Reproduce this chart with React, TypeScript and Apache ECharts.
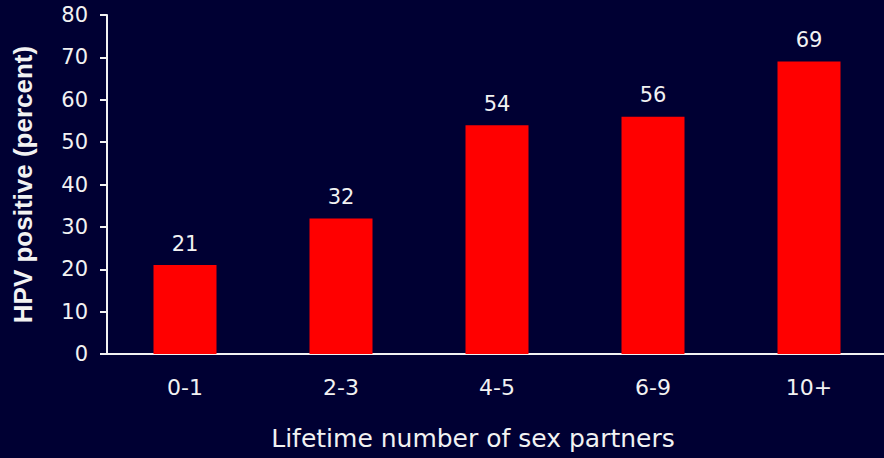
import React, { useEffect, useRef } from "react";
import * as echarts from "echarts";

const categories = ["0-1", "2-3", "4-5", "6-9", "10+"];
const values = [21, 32, 54, 56, 69];
const yTicks = { min: 0, max: 80, interval: 10 };

export default function App() {
  const ref = useRef<HTMLDivElement>(null);
  useEffect(() => {
    const chart = echarts.init(ref.current!, null, { renderer: "svg" });
    const font = "'DejaVu Sans', Verdana, sans-serif";
    chart.setOption({
      animation: false,
      backgroundColor: "#000033",
      grid: { left: 107, top: 15, width: 780, height: 339, containLabel: false, outerBoundsMode: "none" },
      xAxis: {
        type: "category",
        data: categories,
        name: "Lifetime number of sex partners",
        nameLocation: "middle",
        nameGap: 72,
        nameTextStyle: { color: "#f2f2f2", fontSize: 25, fontFamily: font, padding: [0, 48, 0, 0] },
        axisLine: { lineStyle: { color: "#f2f2f2", width: 2 } },
        axisTick: { show: false },
        axisLabel: { color: "#f2f2f2", fontSize: 22, fontFamily: font, margin: 22 },
      },
      yAxis: {
        type: "value",
        min: yTicks.min,
        max: yTicks.max,
        interval: yTicks.interval,
        name: "HPV positive (percent)",
        nameLocation: "middle",
        nameGap: 71,
        nameTextStyle: { color: "#f2f2f2", fontSize: 26, fontWeight: "bold", fontFamily: "'Liberation Sans', Arial, sans-serif" },
        splitLine: { show: false },
        axisLine: { show: true, lineStyle: { color: "#f2f2f2", width: 2 } },
        axisTick: { show: true, length: 7, lineStyle: { color: "#f2f2f2", width: 2 } },
        axisLabel: { color: "#f2f2f2", fontSize: 21, fontFamily: font, margin: 19 },
      },
      series: [
        {
          type: "bar",
          data: values,
          barWidth: 63,
          itemStyle: { color: "#ff0000" },
          label: {
            show: true,
            position: "top",
            distance: 11,
            color: "#f2f2f2",
            fontSize: 21,
            fontFamily: font,
          },
        },
      ],
    });
    return () => chart.dispose();
  }, []);
  return <div ref={ref} style={{ width: 884, height: 458, position: "fixed", left: 0, top: 0 }} />;
}
